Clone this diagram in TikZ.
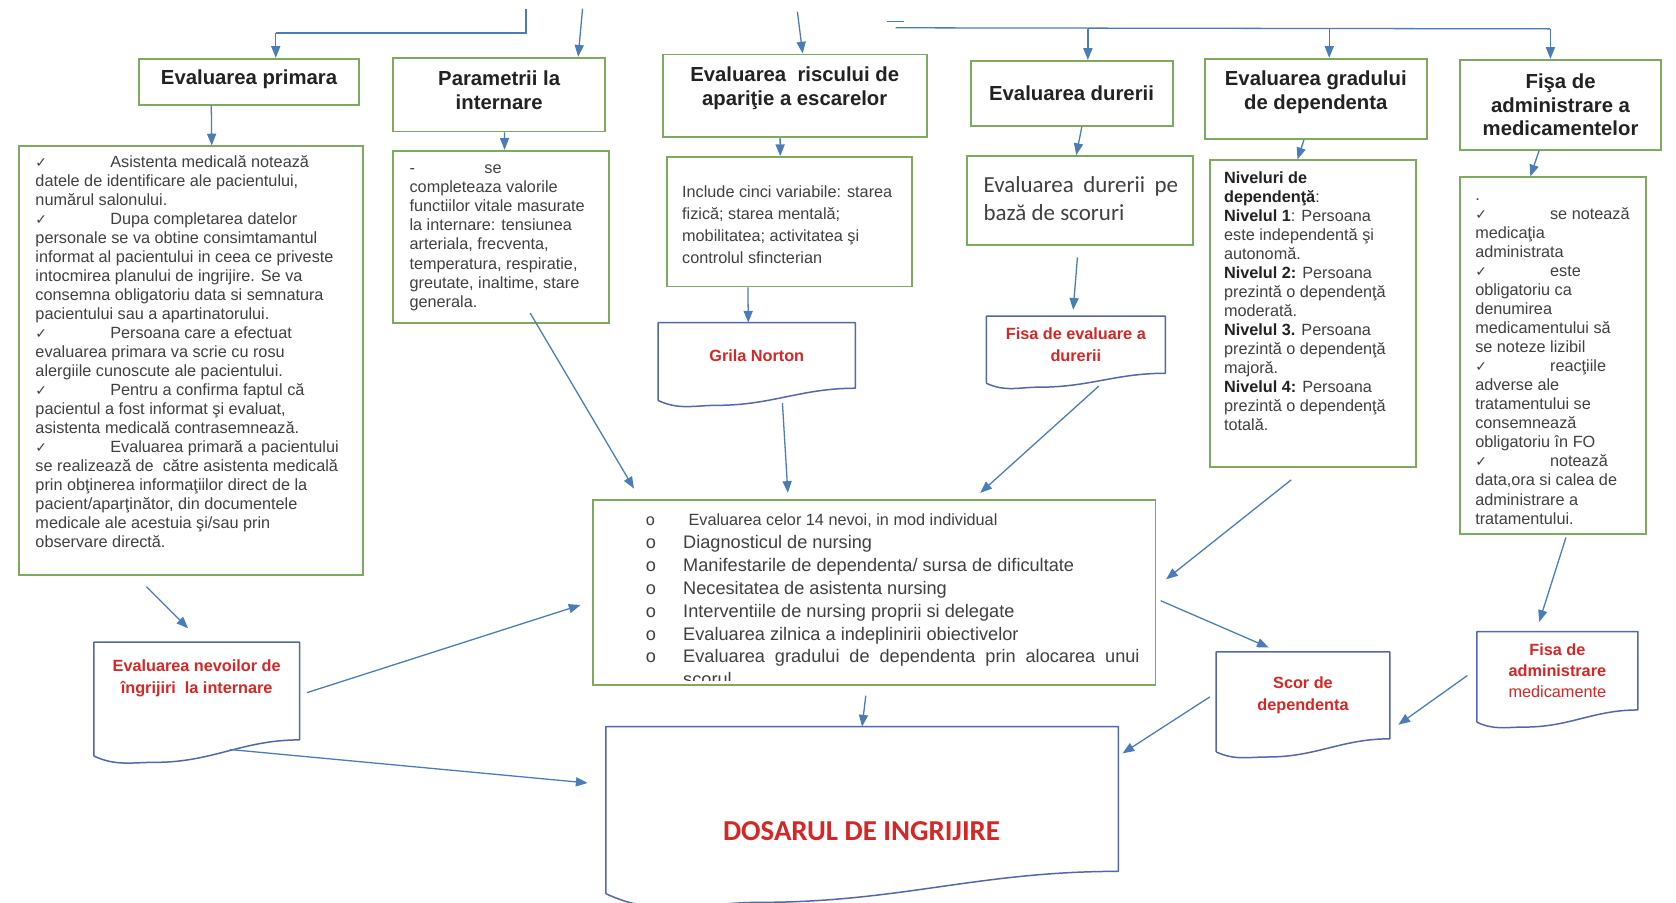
\documentclass[tikz,border=0pt]{standalone}
\usepackage{fontspec}
\setmainfont{Liberation Sans}
\newfontfamily\calfont{Carlito}
\newfontfamily\symfont{DejaVu Sans}
\usepackage{tikz}
\usetikzlibrary{arrows.meta,calc,positioning}
\definecolor{boxgreen}{RGB}{126,170,94}
\definecolor{docblue}{RGB}{84,104,168}
\definecolor{arblue}{RGB}{74,124,184}
\definecolor{docred}{RGB}{214,38,38}
\definecolor{txtgray}{RGB}{64,64,64}
\definecolor{headgray}{RGB}{34,34,34}
\newcommand\ttlfnt{\fontsize{19}{22}\selectfont\bfseries}
\newcommand\bodyfnt{\fontsize{15.2}{17.8}\selectfont}
\newcommand\chk{\makebox[70pt][l]{\symfont\fontsize{13}{13}\selectfont ✓}}
\newcommand\blt{\makebox[35pt][l]{o}}
\newcommand\nb[1]{{\bfseries\color{headgray}#1}}
\newcommand\docwave[2]{%
  \draw[docline] ($(#1.south west)+(0,-.72*#2)$) -- (#1.north west) -- (#1.north east) -- (#1.south east)
    to[out=180,in=0] ($(#1.south west)!.3!(#1.south east)+(0,-#2)$)
    to[out=180,in=-25] ($(#1.south west)+(0,-.72*#2)$);}
\tikzset{
	sz/.style 2 args={minimum width=#1pt, minimum height=#2pt},
	bx/.style={draw=boxgreen, line width=1.8pt, fill=white, inner sep=0pt},
	ttl/.style={bx, align=center, font=\ttlfnt, text=headgray},
	body/.style={inner sep=0pt, anchor=north west, align=left, font=\bodyfnt, text=txtgray},
	doc/.style={inner sep=0pt, align=center, font=\fontsize{15.2}{20}\selectfont\bfseries, text=docred},
	docline/.style={draw=docblue, line width=1.4pt, line join=round},
	ln/.style={draw=arblue, line width=1.2pt},
	ar/.style={ln, -{Triangle[length=11pt,width=8.5pt]}}
}
\begin{document}
\begin{tikzpicture}[x=1pt, y=1pt]
   \useasboundingbox[fill=white] (0,0) rectangle (1568,-844);

   \node[ttl, sz={206}{43}, text depth=8pt] (prim) at (233,-76.5) {Evaluarea primara};
   \node[ttl, sz={198}{69}, text depth=8pt] (param) at (467,-88.5) {Parametrii la\\internare};
   \node[ttl, sz={247}{77}, text depth=18pt] (risc) at (743.5,-89.5) {Evaluarea\ \ riscului de\\apariţie a escarelor};
   \node[ttl, sz={189}{61}] (durere) at (1002.5,-87.5) {Evaluarea durerii};
   \node[ttl, sz={208}{75}, text depth=16pt] (grad) at (1231,-92.5) {Evaluarea gradului\\de dependenta};
   \node[ttl, sz={188}{84}] (fisa) at (1460,-98) {Fişa de\\administrare a\\medicamentelor};

   \node[bx, sz={322}{401}] (primBox) at (179,-337.5) {};
   \node[body] (primT) at (33,-144) {\strut\chk Asistenta medicală notează\\
      datele de identificare ale pacientului,\\
      numărul salonului.\\
      \chk Dupa completarea datelor\\
      personale se va obtine consimtamantul\\
      informat al pacientului in ceea ce priveste\\
      intocmirea planului de ingrijire. Se va\\
      consemna obligatoriu data si semnatura\\
      pacientului sau a apartinatorului.\\
      \chk Persoana care a efectuat\\
      evaluarea primara va scrie cu rosu\\
      alergiile cunoscute ale pacientului.\\
      \chk Pentru a confirma faptul că\\
      pacientul a fost informat şi evaluat,\\
      asistenta medicală contrasemnează.\\
      \chk Evaluarea primară a pacientului\\
      se realizează de\ \ către asistenta medicală\\
      prin obţinerea informaţiilor direct de la\\
      pacient/aparţinător, din documentele\\
      medicale ale acestuia şi/sau prin\\
      observare directă.};
   \node[bx, sz={202}{161}] (paramBox) at (469,-221.5) {};
   \node[body] (paramT) at (383,-150) {\strut\makebox[70pt][l]{-}se\\
      completeaza valorile\\
      functiilor vitale masurate\\
      la internare: tensiunea\\
      arteriala, frecventa,\\
      temperatura, respiratie,\\
      greutate, inaltime, stare\\
      generala.};
   \node[bx, sz={229}{121}] (inclBox) at (738.5,-207.5) {};
   \node[body, font=\fontsize{15.2}{20.5}\selectfont] (inclT) at (638,-170) {\strut Include cinci variabile: starea\\
      fizică; starea mentală;\\
      mobilitatea; activitatea şi\\
      controlul sfincterian};
   \node[bx, sz={211}{83}] (durBox) at (1010.5,-187.5) {};
   \node[body, font=\calfont\fontsize{21.5}{26}\selectfont] (durT) at (920,-162) {\strut\makebox[182pt][s]{Evaluarea durerii pe}\\
      bază de scoruri};
   \node[bx, sz={193}{287}] (nivBox) at (1228.5,-293.5) {};
   \node[body] (nivT) at (1145,-159) {\strut\nb{Niveluri de}\\
      \nb{dependenţă}:\\
      \nb{Nivelul 1}: Persoana\\
      este independentă şi\\
      autonomă.\\
      \nb{Nivelul 2:} Persoana\\
      prezintă o dependenţă\\
      moderată.\\
      \nb{Nivelul 3.} Persoana\\
      prezintă o dependenţă\\
      majoră.\\
      \nb{Nivelul 4:} Persoana\\
      prezintă o dependenţă\\
      totală.};
   \node[bx, sz={174}{334}] (medBox) at (1453,-333) {};
   \node[body] (medT) at (1380,-175) {\strut.\\
      \chk se notează\\
      medicaţia\\
      administrata\\
      \chk este\\
      obligatoriu ca\\
      denumirea\\
      medicamentului să\\
      se noteze lizibil\\
      \chk reacţiile\\
      adverse ale\\
      tratamentului se\\
      consemnează\\
      obligatoriu în FO\\
      \chk notează\\
      data,ora si calea de\\
      administrare a\\
      tratamentului.};

   \node[doc, sz={184}{61}] (norton) at (708,-332.5) {Grila Norton};
   \docwave{norton}{16}
   \node[doc, sz={167}{53}] (durdoc) at (1006.5,-322.5) {Fisa de evaluare a\\durerii};
   \docwave{durdoc}{13}

   \node[bx, sz={526}{173}] (list) at (818,-554.5) {};
   \begin{scope}
      \clip ($(list.south west)+(0,5)$) rectangle (list.north east);
      \node[body, font=\fontsize{17}{21.5}\selectfont] (listT) at (604,-476) {{\fontsize{15.2}{21.5}\selectfont\strut\makebox[40pt][l]{o}Evaluarea celor 14 nevoi, in mod individual}\\
         \blt Diagnosticul de nursing\\
         \blt Manifestarile de dependenta/ sursa de dificultate\\
         \blt Necesitatea de asistenta nursing\\
         \blt Interventiile de nursing proprii si delegate\\
         \blt Evaluarea zilnica a indeplinirii obiectivelor\\
         \blt\makebox[427pt][s]{Evaluarea gradului de dependenta prin alocarea unui}\\
         \hspace*{35pt}scorul};
   \end{scope}

   \node[doc, sz={192}{91}] (nevoi) at (184,-646.5) {};
   \docwave{nevoi}{21}
   \node[doc] (nevoiT) at (184,-634.5) {Evaluarea nevoilor de\\îngrijiri\ \ la internare};
   \node[doc, sz={479}{135}] (dosar) at (806.5,-747.5) {};
   \docwave{dosar}{29}
   \node[doc, font=\calfont\bfseries\fontsize{27}{30}\selectfont] (dosarT) at (806,-778) {DOSARUL DE INGRIJIRE};
   \node[doc, sz={162}{81}] (scor) at (1219,-650.5) {Scor de\\dependenta};
   \docwave{scor}{17}
   \node[doc, sz={150}{73}] (meddoc) at (1457,-627.5) {Fisa de\\administrare\\{\mdseries medicamente}};
   \docwave{meddoc}{16}

   \coordinate (t1) at (492,-8);
   \coordinate (h1) at (258,-31);
   \coordinate (t2) at (545,-8);
   \coordinate (t3) at (746,-11);
   \coordinate (b0) at (830,-20);
   \coordinate (b0') at (846,-20);
   \coordinate (b1) at (838,-26);
   \coordinate (b2) at (1450,-27);
   \draw[ln] (t1) |- (h1);
   \draw[ar] (h1) -- (h1 |- prim.north);
   \draw[ar] (t2) -- ($(param.north west)!.87!(param.north east)$);
   \draw[ar] (t3) -- ($(risc.north west)!.53!(risc.north east)$);
   \draw[ln] (b0) -- (b0');
   \draw[ln] (b1) -- (b2);
   \foreach \n/\f in {durere/.58,grad/.56,fisa/.45} {
      \path ($(\n.north west)!\f!(\n.north east)$) coordinate (drop);
      \draw[ar] (drop |- b2) -- (drop);
   }

   \draw[ar] ($(prim.south west)!.33!(prim.south east)$) -- ($(primBox.north west)!.559!(primBox.north east)$);
   \draw[ar] ($(param.south west)!.525!(param.south east)$) -- ($(paramBox.north west)!.515!(paramBox.north east)$);
   \draw[ar] ($(risc.south west)!.445!(risc.south east)$) -- ($(inclBox.north west)!.463!(inclBox.north east)$);
   \draw[ar] ($(durere.south west)!.55!(durere.south east)$) -- ($(durBox.north west)!.483!(durBox.north east)$);
   \draw[ar] ($(grad.south west)!.447!(grad.south east)$) -- ($(nivBox.north west)!.425!(nivBox.north east)$);
   \draw[ar] ($(fisa.south west)!.394!(fisa.south east)$) -- ($(medBox.north west)!.379!(medBox.north east)$);
   \draw[ar] ($(inclBox.south west)!.332!(inclBox.south east)$) -- ($(norton.north west)!.457!(norton.north east)$);
   \draw[ar] ($(durBox.south)+(-2.5,-11)$) -- ($(durdoc.north)+(-2.5,6)$);

   \draw[ar] ($(paramBox.south)+(27,10)$) -- ($(list.north west)+(39,10)$);
   \draw[ar] ($(norton.south)+(24,-14)$) -- ($(list.north west)+(183,6)$);
   \draw[ar] ($(durdoc.south)+(21.5,-12)$) -- ($(list.north west)+(363,6)$);
   \draw[ar] ($(nivBox.south)+(-20.5,-11)$) -- ($(list.east)+(9,12.5)$);
   \draw[ar] ($(primBox.south)+(-42,-10)$) -- ($(nevoi.north)+(-8,13)$);
   \draw[ar] ($(nevoi.east)+(7,-1.5)$) -- ($(list.west)+(-11,-11.5)$);
   \draw[ar] ($(nevoi.south)+(31,-9)$) -- ($(dosar.west)+(-17,15)$);
   \draw[ar] ($(list.south)+(-8,-9)$) -- (dosar.north);
   \draw[ar] ($(list.east)+(4,-7.5)$) -- ($(scor.north)+(-32,4)$);
   \draw[ar] ($(scor.west)+(-6,-1.5)$) -- ($(dosar.north east)+(4,-25)$);
   \draw[ar] ($(medBox.south)+(12,-2)$) -- ($(meddoc.north)+(-17,9)$);
   \draw[ar] ($(meddoc.west)+(-9,-4.5)$) -- ($(scor.east)+(8,-27.5)$);
\end{tikzpicture}
\end{document}
